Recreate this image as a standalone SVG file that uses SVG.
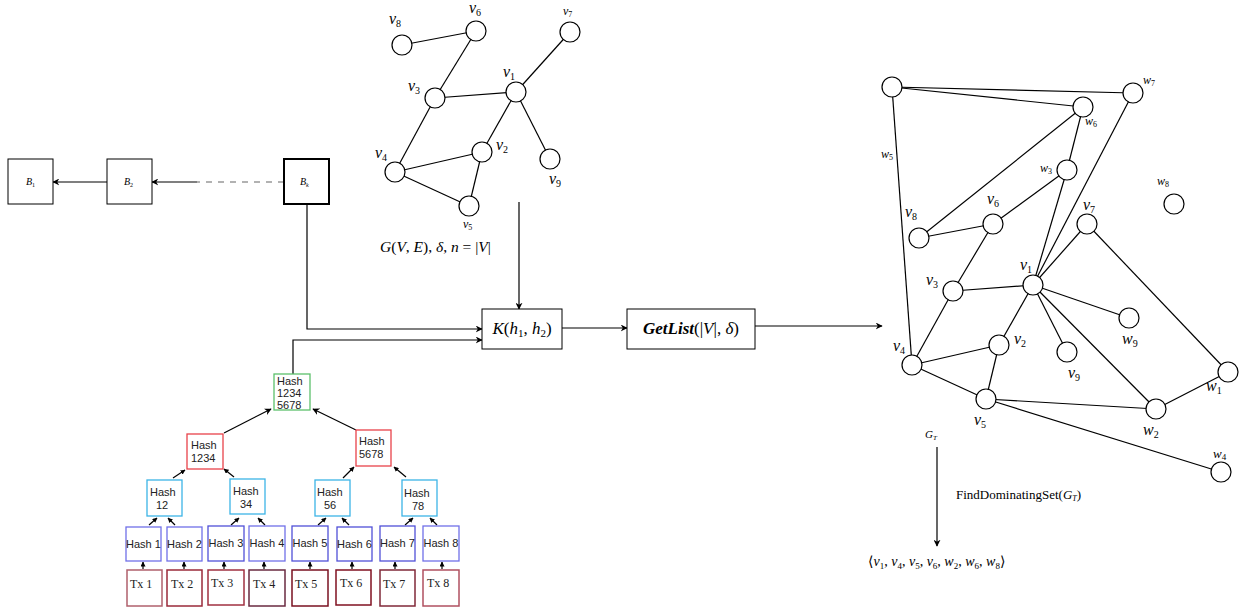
<svg xmlns="http://www.w3.org/2000/svg" width="1243" height="608" viewBox="0 0 1243 608">
<defs>
<marker id="ah" viewBox="0 0 10 10" refX="9" refY="5" markerWidth="7" markerHeight="7" orient="auto-start-reverse" markerUnits="userSpaceOnUse"><path d="M0,0 L10,5 L0,10 L3,5 Z" fill="#000"/></marker>
<marker id="sa" viewBox="0 0 10 10" refX="9" refY="5" markerWidth="5" markerHeight="5" orient="auto" markerUnits="userSpaceOnUse"><path d="M0,0 L10,5 L0,10 Z" fill="#000"/></marker>
</defs>
<style>
.e{stroke:#000;stroke-width:1.2;fill:none}
.c{fill:#fff;stroke:#000;stroke-width:1.2}
.m{font-family:"Liberation Serif","DejaVu Serif",serif;fill:#000}
.i{font-style:italic}
.lb{font-size:16px}
.bx{fill:#fff;stroke:#000;stroke-width:1}
.h{font-family:"Liberation Sans",Arial,sans-serif;font-size:11px;fill:#222}
.t{font-family:"Liberation Serif",serif;font-size:12px;fill:#222}
.arr{stroke:#000;stroke-width:1.2;fill:none;marker-end:url(#ah)}
.sm{stroke:#000;stroke-width:1.2;fill:none;marker-end:url(#sa)}
</style>
<rect width="1243" height="608" fill="#fff"/>

<!-- connectors -->
<g id="connectors">
<line class="arr" x1="107" y1="182" x2="53" y2="182"/>
<line x1="284" y1="182" x2="197" y2="182" stroke="#999" stroke-width="1.5" stroke-dasharray="6,6"/>
<line class="arr" x1="197" y1="182" x2="152" y2="182"/>
<polyline class="arr" points="307,204 307,329 482,329"/>
<polyline class="arr" points="293,374 293,340 482,340"/>
<line class="arr" x1="519" y1="202" x2="519" y2="309"/>
<line class="arr" x1="562" y1="328" x2="627" y2="328"/>
<line class="arr" x1="755" y1="326" x2="882" y2="326"/>
<line class="arr" x1="937" y1="447" x2="937" y2="546"/>
<!-- merkle -->
<line class="arr" x1="224" y1="433" x2="271" y2="409"/>
<line class="arr" x1="356" y1="430" x2="313" y2="409"/>
<line class="sm" x1="173" y1="478" x2="185" y2="470"/>
<line class="sm" x1="234" y1="477" x2="224" y2="469"/>
<line class="sm" x1="343" y1="478" x2="354" y2="467"/>
<line class="sm" x1="406" y1="477" x2="394" y2="467"/>
<line class="sm" x1="149" y1="525" x2="157" y2="518"/>
<line class="sm" x1="175" y1="525" x2="168" y2="518"/>
<line class="sm" x1="231" y1="525" x2="239" y2="518"/>
<line class="sm" x1="265" y1="525" x2="258" y2="518"/>
<line class="sm" x1="318" y1="525" x2="326" y2="518"/>
<line class="sm" x1="349" y1="525" x2="342" y2="518"/>
<line class="sm" x1="405" y1="525" x2="413" y2="518"/>
<line class="sm" x1="437" y1="525" x2="430" y2="518"/>
<line class="sm" x1="143" y1="569" x2="143" y2="562"/>
<line class="sm" x1="184" y1="569" x2="184" y2="562"/>
<line class="sm" x1="224" y1="569" x2="224" y2="562"/>
<line class="sm" x1="264" y1="569" x2="264" y2="562"/>
<line class="sm" x1="310" y1="569" x2="310" y2="562"/>
<line class="sm" x1="352" y1="569" x2="352" y2="562"/>
<line class="sm" x1="395" y1="569" x2="395" y2="562"/>
<line class="sm" x1="442" y1="569" x2="442" y2="562"/>
<!-- top graph edges -->
<line class="e" x1="402" y1="45" x2="476" y2="31"/>
<line class="e" x1="476" y1="31" x2="435" y2="98"/>
<line class="e" x1="435" y1="98" x2="395" y2="172"/>
<line class="e" x1="435" y1="98" x2="516" y2="92"/>
<line class="e" x1="516" y1="92" x2="570" y2="32"/>
<line class="e" x1="516" y1="92" x2="482" y2="152"/>
<line class="e" x1="516" y1="92" x2="550" y2="159"/>
<line class="e" x1="395" y1="172" x2="482" y2="152"/>
<line class="e" x1="395" y1="172" x2="469" y2="206"/>
<line class="e" x1="482" y1="152" x2="469" y2="206"/>
<!-- right graph edges -->
<line class="e" x1="892" y1="87" x2="1133" y2="93"/>
<line class="e" x1="892" y1="87" x2="1083" y2="107"/>
<line class="e" x1="892" y1="87" x2="912" y2="365"/>
<line class="e" x1="1083" y1="107" x2="919" y2="238"/>
<line class="e" x1="1083" y1="107" x2="1067" y2="170"/>
<line class="e" x1="1067" y1="170" x2="993" y2="224"/>
<line class="e" x1="1067" y1="170" x2="1033" y2="285"/>
<line class="e" x1="1133" y1="93" x2="1033" y2="285"/>
<line class="e" x1="919" y1="238" x2="993" y2="224"/>
<line class="e" x1="993" y1="224" x2="953" y2="291"/>
<line class="e" x1="953" y1="291" x2="1033" y2="285"/>
<line class="e" x1="953" y1="291" x2="912" y2="365"/>
<line class="e" x1="1033" y1="285" x2="1087" y2="224"/>
<line class="e" x1="1087" y1="224" x2="1228" y2="372"/>
<line class="e" x1="1033" y1="285" x2="1129" y2="318"/>
<line class="e" x1="1033" y1="285" x2="1067" y2="352"/>
<line class="e" x1="1033" y1="285" x2="1156" y2="409"/>
<line class="e" x1="1033" y1="285" x2="999" y2="345"/>
<line class="e" x1="999" y1="345" x2="912" y2="365"/>
<line class="e" x1="999" y1="345" x2="986" y2="399"/>
<line class="e" x1="912" y1="365" x2="986" y2="399"/>
<line class="e" x1="986" y1="399" x2="1156" y2="409"/>
<line class="e" x1="986" y1="399" x2="1221" y2="472"/>
<line class="e" x1="1156" y1="409" x2="1228" y2="372"/>
</g>

<!-- blockchain -->
<g id="B1"><rect class="bx" x="8" y="159" width="45" height="45"/><text class="m i" x="26" y="185" font-size="10">B<tspan font-size="6" font-style="normal" dy="2">1</tspan></text></g>
<g id="B2"><rect class="bx" x="107" y="159" width="45" height="45"/><text class="m i" x="124" y="185" font-size="10">B<tspan font-size="6" font-style="normal" dy="2">2</tspan></text></g>
<g id="Bk"><rect x="284" y="159" width="45" height="45" fill="#fff" stroke="#000" stroke-width="2"/><text class="m i" x="300" y="185" font-size="10">B<tspan font-size="6" dy="2">k</tspan></text></g>

<!-- top graph -->
<g id="g1-v8"><circle class="c" cx="402" cy="45" r="10"/><text class="m i lb" x="389" y="24">v<tspan font-size="10" font-style="normal" dy="3">8</tspan></text></g>
<g id="g1-v6"><circle class="c" cx="476" cy="31" r="10"/><text class="m i lb" x="469" y="13">v<tspan font-size="10" font-style="normal" dy="3">6</tspan></text></g>
<g id="g1-v7"><circle class="c" cx="570" cy="32" r="10"/><text class="m i" font-size="12" x="563" y="15">v<tspan font-size="8" font-style="normal" dy="2">7</tspan></text></g>
<g id="g1-v1"><circle class="c" cx="516" cy="92" r="10"/><text class="m i lb" x="503" y="77">v<tspan font-size="10" font-style="normal" dy="3">1</tspan></text></g>
<g id="g1-v3"><circle class="c" cx="435" cy="98" r="10"/><text class="m i lb" x="408" y="91">v<tspan font-size="10" font-style="normal" dy="3">3</tspan></text></g>
<g id="g1-v4"><circle class="c" cx="395" cy="172" r="10"/><text class="m i lb" x="375" y="158">v<tspan font-size="10" font-style="normal" dy="3">4</tspan></text></g>
<g id="g1-v2"><circle class="c" cx="482" cy="152" r="10"/><text class="m i lb" x="496" y="150">v<tspan font-size="10" font-style="normal" dy="3">2</tspan></text></g>
<g id="g1-v9"><circle class="c" cx="550" cy="159" r="10"/><text class="m i lb" x="549" y="184">v<tspan font-size="10" font-style="normal" dy="3">9</tspan></text></g>
<g id="g1-v5"><circle class="c" cx="469" cy="206" r="10"/><text class="m i" font-size="12" x="463" y="228">v<tspan font-size="8" font-style="normal" dy="2">5</tspan></text></g>
<g id="g1-label"><text class="m" font-size="15.5" x="380" y="252"><tspan class="i">G</tspan>(<tspan class="i">V</tspan>, <tspan class="i">E</tspan>), <tspan class="i">δ</tspan>, <tspan class="i">n</tspan> = |<tspan class="i">V</tspan>|</text></g>

<!-- K and GetList -->
<g id="K"><rect class="bx" x="482" y="309" width="80" height="40"/><text class="m" font-size="17" x="522" y="334" text-anchor="middle"><tspan class="i">K</tspan>(<tspan class="i">h</tspan><tspan font-size="11" dy="3">1</tspan><tspan dy="-3">, </tspan><tspan class="i">h</tspan><tspan font-size="11" dy="3">2</tspan><tspan dy="-3">)</tspan></text></g>
<g id="GetList"><rect class="bx" x="627" y="309" width="128" height="40"/><text class="m" font-size="17" x="691" y="334" text-anchor="middle"><tspan class="i" font-weight="bold">GetList</tspan>(|<tspan class="i">V</tspan>|, <tspan class="i">δ</tspan>)</text></g>

<!-- merkle tree -->
<g id="root"><rect x="274" y="374" width="36" height="36" fill="#fff" stroke="#5cc06c" stroke-width="1.3"/><text class="h" x="277" y="385">Hash</text><text class="h" x="277" y="397">1234</text><text class="h" x="277" y="409">5678</text></g>
<g id="h1234"><rect x="187" y="434" width="36" height="35" fill="#fff" stroke="#e8424a" stroke-width="1.3"/><text class="h" x="191" y="449">Hash</text><text class="h" x="191" y="462">1234</text></g>
<g id="h5678"><rect x="356" y="430" width="35" height="36" fill="#fff" stroke="#e8424a" stroke-width="1.3"/><text class="h" x="359" y="445">Hash</text><text class="h" x="359" y="458">5678</text></g>
<g id="h12"><rect x="147" y="480" width="35" height="36" fill="#fff" stroke="#3cb4e6" stroke-width="1.3"/><text class="h" x="150" y="496">Hash</text><text class="h" x="156" y="509">12</text></g>
<g id="h34"><rect x="230" y="479" width="35" height="35" fill="#fff" stroke="#3cb4e6" stroke-width="1.3"/><text class="h" x="233" y="495">Hash</text><text class="h" x="240" y="508">34</text></g>
<g id="h56"><rect x="315" y="480" width="35" height="36" fill="#fff" stroke="#3cb4e6" stroke-width="1.3"/><text class="h" x="317" y="496">Hash</text><text class="h" x="324" y="509">56</text></g>
<g id="h78"><rect x="402" y="480" width="35" height="36" fill="#fff" stroke="#3cb4e6" stroke-width="1.3"/><text class="h" x="404" y="497">Hash</text><text class="h" x="412" y="510">78</text></g>
<g id="hash1"><rect x="126" y="527" width="35" height="34" fill="#fff" stroke="#7070e8" stroke-width="1.3"/><text class="h" x="143.5" y="548" text-anchor="middle">Hash 1</text></g>
<g id="hash2"><rect x="167" y="527" width="35" height="34" fill="#fff" stroke="#7070e8" stroke-width="1.3"/><text class="h" x="184.5" y="548" text-anchor="middle">Hash 2</text></g>
<g id="hash3"><rect x="208" y="526" width="36" height="35" fill="#fff" stroke="#5050d8" stroke-width="1.3"/><text class="h" x="226" y="547" text-anchor="middle">Hash 3</text></g>
<g id="hash4"><rect x="249" y="526" width="36" height="35" fill="#fff" stroke="#7070e8" stroke-width="1.3"/><text class="h" x="267" y="547" text-anchor="middle">Hash 4</text></g>
<g id="hash5"><rect x="292" y="526" width="36" height="35" fill="#fff" stroke="#5050d8" stroke-width="1.3"/><text class="h" x="310" y="547" text-anchor="middle">Hash 5</text></g>
<g id="hash6"><rect x="337" y="527" width="35" height="34" fill="#fff" stroke="#5050d8" stroke-width="1.3"/><text class="h" x="354.5" y="548" text-anchor="middle">Hash 6</text></g>
<g id="hash7"><rect x="380" y="526" width="35" height="35" fill="#fff" stroke="#5050d8" stroke-width="1.3"/><text class="h" x="397.5" y="547" text-anchor="middle">Hash 7</text></g>
<g id="hash8"><rect x="423" y="526" width="36" height="35" fill="#fff" stroke="#7070e8" stroke-width="1.3"/><text class="h" x="441" y="547" text-anchor="middle">Hash 8</text></g>
<g id="tx1"><rect x="127" y="570" width="35" height="36" fill="#fff" stroke="#b0606c" stroke-width="1.5"/><text class="t" x="130" y="588">Tx 1</text></g>
<g id="tx2"><rect x="167" y="570" width="35" height="36" fill="#fff" stroke="#9a2a3a" stroke-width="1.5"/><text class="t" x="171" y="588">Tx 2</text></g>
<g id="tx3"><rect x="208" y="570" width="36" height="35" fill="#fff" stroke="#a03040" stroke-width="1.5"/><text class="t" x="211" y="587">Tx 3</text></g>
<g id="tx4"><rect x="249" y="570" width="36" height="36" fill="#fff" stroke="#6a2a40" stroke-width="1.5"/><text class="t" x="253" y="588">Tx 4</text></g>
<g id="tx5"><rect x="292" y="570" width="36" height="36" fill="#fff" stroke="#7a1020" stroke-width="1.5"/><text class="t" x="295" y="588">Tx 5</text></g>
<g id="tx6"><rect x="336" y="570" width="35" height="35" fill="#fff" stroke="#801020" stroke-width="1.5"/><text class="t" x="340" y="587">Tx 6</text></g>
<g id="tx7"><rect x="380" y="570" width="35" height="36" fill="#fff" stroke="#802838" stroke-width="1.5"/><text class="t" x="383" y="588">Tx 7</text></g>
<g id="tx8"><rect x="423" y="570" width="36" height="36" fill="#fff" stroke="#b05060" stroke-width="1.5"/><text class="t" x="427" y="587">Tx 8</text></g>

<!-- right graph -->
<g id="w5"><circle class="c" cx="892" cy="87" r="10"/><text class="m i" font-size="12" x="881" y="158">w<tspan font-size="8" font-style="normal" dy="2">5</tspan></text></g>
<g id="w7"><circle class="c" cx="1133" cy="93" r="10"/><text class="m i" font-size="12" x="1143" y="84">w<tspan font-size="8" font-style="normal" dy="2">7</tspan></text></g>
<g id="w6"><circle class="c" cx="1083" cy="107" r="10"/><text class="m i" font-size="12" x="1085" y="125">w<tspan font-size="8" font-style="normal" dy="2">6</tspan></text></g>
<g id="w3"><circle class="c" cx="1067" cy="170" r="10"/><text class="m i" font-size="12" x="1040" y="172">w<tspan font-size="8" font-style="normal" dy="2">3</tspan></text></g>
<g id="w8"><circle class="c" cx="1174" cy="204" r="10"/><text class="m i" font-size="12" x="1157" y="185">w<tspan font-size="8" font-style="normal" dy="2">8</tspan></text></g>
<g id="v8"><circle class="c" cx="919" cy="238" r="10"/><text class="m i lb" x="905" y="217">v<tspan font-size="10" font-style="normal" dy="3">8</tspan></text></g>
<g id="v6"><circle class="c" cx="993" cy="224" r="10"/><text class="m i lb" x="987" y="204">v<tspan font-size="10" font-style="normal" dy="3">6</tspan></text></g>
<g id="v7"><circle class="c" cx="1087" cy="224" r="10"/><text class="m i lb" x="1083" y="210">v<tspan font-size="10" font-style="normal" dy="3">7</tspan></text></g>
<g id="v1"><circle class="c" cx="1033" cy="285" r="10"/><text class="m i lb" x="1020" y="270">v<tspan font-size="10" font-style="normal" dy="3">1</tspan></text></g>
<g id="v3"><circle class="c" cx="953" cy="291" r="10"/><text class="m i lb" x="926" y="285">v<tspan font-size="10" font-style="normal" dy="3">3</tspan></text></g>
<g id="w9"><circle class="c" cx="1129" cy="318" r="10"/><text class="m i lb" x="1122" y="344">w<tspan font-size="10" font-style="normal" dy="3">9</tspan></text></g>
<g id="v2"><circle class="c" cx="999" cy="345" r="10"/><text class="m i lb" x="1014" y="344">v<tspan font-size="10" font-style="normal" dy="3">2</tspan></text></g>
<g id="v9"><circle class="c" cx="1067" cy="352" r="10"/><text class="m i lb" x="1068" y="378">v<tspan font-size="10" font-style="normal" dy="3">9</tspan></text></g>
<g id="v4"><circle class="c" cx="912" cy="365" r="10"/><text class="m i lb" x="893" y="351">v<tspan font-size="10" font-style="normal" dy="3">4</tspan></text></g>
<g id="w1"><circle class="c" cx="1228" cy="372" r="10"/><text class="m i lb" x="1206" y="391">w<tspan font-size="10" font-style="normal" dy="3">1</tspan></text></g>
<g id="v5"><circle class="c" cx="986" cy="399" r="10"/><text class="m i lb" x="974" y="425">v<tspan font-size="10" font-style="normal" dy="3">5</tspan></text></g>
<g id="w2"><circle class="c" cx="1156" cy="409" r="10"/><text class="m i lb" x="1143" y="435">w<tspan font-size="10" font-style="normal" dy="3">2</tspan></text></g>
<g id="w4"><circle class="c" cx="1221" cy="472" r="10"/><text class="m i" font-size="13" x="1213" y="458">w<tspan font-size="9" font-style="normal" dy="2">4</tspan></text></g>
<g id="GT"><text class="m i" font-size="11" x="925" y="438">G<tspan font-size="7" dy="2">T</tspan></text></g>
<g id="fds"><text class="m" font-size="13" x="956" y="499">FindDominatingSet(<tspan class="i">G</tspan><tspan class="i" font-size="8" dy="2">T</tspan><tspan dy="-2">)</tspan></text></g>
<g id="result"><text class="m" font-size="14" x="868" y="566"><tspan font-family="DejaVu Serif">⟨</tspan><tspan class="i">v</tspan><tspan font-size="9" dy="3">1</tspan><tspan dy="-3">, </tspan><tspan class="i">v</tspan><tspan font-size="9" dy="3">4</tspan><tspan dy="-3">, </tspan><tspan class="i">v</tspan><tspan font-size="9" dy="3">5</tspan><tspan dy="-3">, </tspan><tspan class="i">v</tspan><tspan font-size="9" dy="3">6</tspan><tspan dy="-3">, </tspan><tspan class="i">w</tspan><tspan font-size="9" dy="3">2</tspan><tspan dy="-3">, </tspan><tspan class="i">w</tspan><tspan font-size="9" dy="3">6</tspan><tspan dy="-3">, </tspan><tspan class="i">w</tspan><tspan font-size="9" dy="3">8</tspan><tspan dy="-3" font-family="DejaVu Serif">⟩</tspan></text></g>
</svg>
